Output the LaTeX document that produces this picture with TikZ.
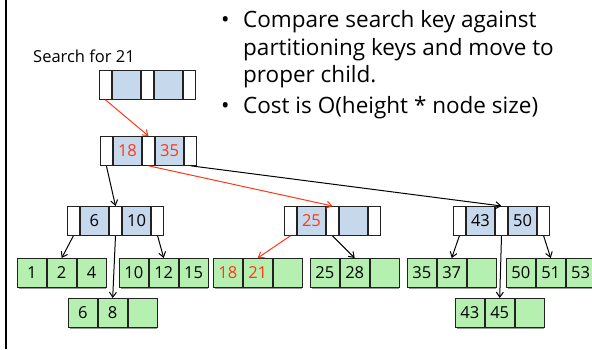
\documentclass[tikz,border=0pt]{standalone}
\usepackage{fontspec}
\setmainfont{Open Sans}
\usetikzlibrary{arrows.meta}

\definecolor{linec}{RGB}{34,34,34}
\definecolor{keyblue}{RGB}{198,216,236}
\definecolor{leafgreen}{RGB}{182,240,176}
\definecolor{hotred}{RGB}{255,56,20}
\definecolor{shadowc}{RGB}{150,150,150}

\tikzset{
  cell/.style={draw=linec, line width=0.8pt, inner sep=0pt, anchor=north west,
               font=\fontsize{16.5}{18}\selectfont},
  ptrcell/.style={cell, fill=white, minimum width=12pt, minimum height=29pt},
  keycell/.style={cell, fill=keyblue, minimum width=28.5pt, minimum height=29pt},
  leafcell/.style={cell, fill=leafgreen, minimum width=29pt, minimum height=29pt},
  arr/.style={draw=black, line width=1pt, -{Straight Barb[length=5pt,width=7pt]}},
  hotarr/.style={arr, draw=hotred},
  bullet/.style={anchor=base west, inner sep=0pt, font=\fontsize{22.5}{25}\selectfont},
  caption/.style={anchor=base west, inner sep=0pt, font=\fontsize{16.5}{18}\selectfont},
}

% inner tree node: name, top-left x, top-left y, key 1, key 2
\newcommand\treenode[5]{%
  \node[ptrcell] (#1-1) at (#2,#3) {};
  \node[keycell] (#1-2) at (#1-1.north east) {#4};
  \node[ptrcell] (#1-3) at (#1-2.north east) {};
  \node[keycell] (#1-4) at (#1-3.north east) {#5};
  \node[ptrcell] (#1-5) at (#1-4.north east) {};
}
% leaf node: name, top-left x, top-left y, three entries
\newcommand\leafnode[6]{%
  \fill[shadowc] (#2+1.5,#3+1.5) rectangle ++(87,29);
  \node[leafcell] (#1-1) at (#2,#3) {#4};
  \node[leafcell] (#1-2) at (#1-1.north east) {#5};
  \node[leafcell] (#1-3) at (#1-2.north east) {#6};
}

\begin{document}
\begin{tikzpicture}[x=1pt,y=-1pt]
\useasboundingbox (0,0) rectangle (592,349);

% frame edge on the left
\draw[line width=2pt] (6,0) -- (6,349);

% explanation text
\node[bullet] (b1) at (221,27) {\textbullet};
\node[bullet] (t1) at (243,27) {Compare search key against};
\node[bullet] (t2) at (243,55) {partitioning keys and move to};
\node[bullet] (t3) at (243,82) {proper child.};
\node[bullet] (b2) at (221,113) {\textbullet};
\node[bullet] (t4) at (243,113) {Cost is O(height * node size)};

\node[caption] (cap) at (33,62) {Search for 21};

% inner nodes
\treenode{T}{99}{70}{}{}
\treenode{R}{100}{136}{\textcolor{hotred}{18}}{\textcolor{hotred}{35}}
\treenode{A}{67}{206}{6}{10}
\treenode{B}{284}{206}{\textcolor{hotred}{25}}{}
\treenode{C}{453}{206}{43}{50}

% leaves
\leafnode{L1}{17}{258}{1}{2}{4}
\leafnode{L2}{119}{258}{10}{12}{15}
\leafnode{L3}{213}{258}{\textcolor{hotred}{18}}{\textcolor{hotred}{21}}{}
\leafnode{L4}{310}{258}{25}{28}{}
\leafnode{L5}{407}{258}{35}{37}{}
\leafnode{L6}{506}{258}{50}{51}{53}
\leafnode{L7}{68}{298}{6}{8}{}
\leafnode{L8}{455}{298}{43}{45}{}

% child pointers
\draw[hotarr] (T-1.south) -- (R-3.north);
\draw[arr]    (R-1.south) -- (A-3.north);
\draw[hotarr] (R-3.south) -- (B-3.north);
\draw[arr]    (R-5.south) -- (C-3.north);

\draw[arr] (A-1.south) -- (L1-2.north);
\draw[arr] (A-3.south) -- (L7-2.north);
\draw[arr] (A-5.south) -- (L2-2.north);

\draw[hotarr] (B-1.south) -- (L3-2.north);
\draw[arr]    (B-3.south) -- (L4-2.north);

\draw[arr] (C-1.south) -- (L5-2.north);
\draw[arr] (C-3.south) -- (L8-2.north);
\draw[arr] (C-5.south) -- (L6-2.north);
\end{tikzpicture}
\end{document}
